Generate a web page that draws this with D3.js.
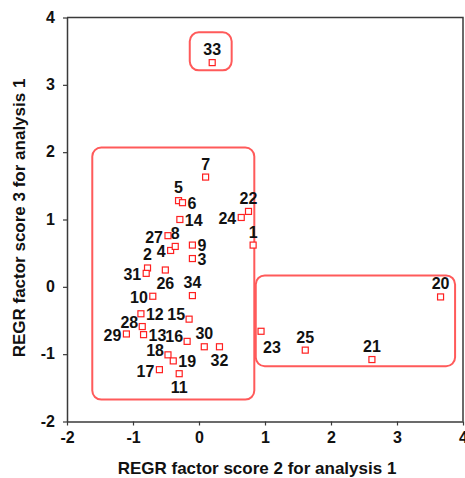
<!DOCTYPE html>
<html>
<head>
<meta charset="utf-8">
<script src="https://cdn.jsdelivr.net/npm/d3@7"></script>
<style>
  html, body { margin: 0; padding: 0; background: #fff; }
  svg { display: block; font-family: "Liberation Sans", Arial, sans-serif; }
</style>
</head>
<body>
<svg id="chart" width="465" height="478"></svg>
<script>
// ---- data ----
const caseIds = [1,2,3,4,5,6,7,8,9,10,11,12,13,14,15,16,17,18,19,20,21,22,23,24,25,26,27,28,29,30,31,32,33,34];
const factor2 = [0.82,-0.78,-0.10,-0.43,-0.31,-0.25,0.10,-0.36,-0.10,-0.70,-0.30,-0.88,-0.84,-0.29,-0.15,-0.18,-0.60,-0.47,-0.39,3.66,2.62,0.75,0.94,0.64,1.61,-0.51,-0.47,-0.86,-1.10,0.08,-0.80,0.31,0.20,-0.10];
const factor3 = [0.62,0.28,0.42,0.54,1.28,1.25,1.63,0.60,0.62,-0.14,-1.29,-0.40,-0.71,1.00,-0.48,-0.81,-1.23,-1.01,-1.10,-0.15,-1.08,1.12,-0.66,1.03,-0.94,0.25,0.76,-0.59,-0.70,-0.89,0.20,-0.89,3.33,-0.13];
const labelSide = ["t","t","r","l","t","r","t","t","r","l","b","r","r","r","tl","tl","l","tl","r","t","t","t","br","l","t","b","l","tl","l","t","l","b","t","t"];
const xTicks = [-2,-1,0,1,2,3,4];
const yTicks = [-2,-1,0,1,2,3,4];
const xTitle = "REGR factor score 2 for analysis 1";
const yTitle = "REGR factor score 3 for analysis 1";
// group boxes in data units: [x0, x1, y0, y1]
const groupBoxes = [
  [-1.617, 0.838, -1.675, 2.07],
  [0.86, 3.88, -1.18, 0.17],
  [-0.14, 0.495, 3.215, 3.78]
];

// ---- layout ----
const svg = d3.select("#chart");
const x = d3.scaleLinear().domain([-2, 4]).range([67, 463]);
const y = d3.scaleLinear().domain([-2, 4]).range([421.5, 17.5]);
const axisColor = "#3a3a3a";
const fmt = d => String(d); // plain hyphen-minus like the reference

// frame (top and right)
svg.append("path")
  .attr("d", `M${x(-2)},${y(4)}H${x(4)}V${y(-2)}`)
  .attr("fill", "none").attr("stroke", axisColor).attr("stroke-width", 1.5);

const xAxis = svg.append("g").attr("transform", `translate(0,${y(-2)})`)
  .call(d3.axisBottom(x).tickValues(xTicks).tickSize(4).tickSizeOuter(0).tickFormat(fmt));
const yAxis = svg.append("g").attr("transform", `translate(${x(-2)},0)`)
  .call(d3.axisLeft(y).tickValues(yTicks).tickSize(4).tickSizeOuter(0).tickFormat(fmt));

[xAxis, yAxis].forEach(g => {
  g.select(".domain").attr("stroke", axisColor).attr("stroke-width", 1.5);
  g.selectAll(".tick line").attr("stroke", axisColor).attr("stroke-width", 1.2);
  g.selectAll(".tick text")
    .attr("fill", "#111").attr("font-size", 16).attr("font-weight", "bold")
    .attr("font-family", "\"Liberation Sans\", Arial, sans-serif");
});
xAxis.selectAll(".tick text").attr("y", 10).attr("dy", "0.71em");
yAxis.selectAll(".tick text").attr("x", -12).attr("dy", "0.3em");

// axis titles
svg.append("text")
  .attr("x", 257).attr("y", 474)
  .attr("text-anchor", "middle")
  .attr("font-size", 17).attr("font-weight", "bold").attr("fill", "#111")
  .text(xTitle);
svg.append("text")
  .attr("transform", `translate(25,218) rotate(-90)`)
  .attr("text-anchor", "middle")
  .attr("font-size", 17).attr("font-weight", "bold").attr("fill", "#111")
  .text(yTitle);

// group boxes
svg.append("g").selectAll("rect").data(groupBoxes).join("rect")
  .attr("x", d => x(d[0]))
  .attr("y", d => y(d[3]))
  .attr("width", d => x(d[1]) - x(d[0]))
  .attr("height", d => y(d[2]) - y(d[3]))
  .attr("rx", 9).attr("ry", 9)
  .attr("fill", "none").attr("stroke", "#ff5a5a").attr("stroke-width", 2);

// points
const pts = caseIds.map((id, i) => ({id, fx: factor2[i], fy: factor3[i], side: labelSide[i]}));
svg.append("g").selectAll("rect").data(pts).join("rect")
  .attr("x", d => x(d.fx) - 3)
  .attr("y", d => y(d.fy) - 3)
  .attr("width", 6).attr("height", 6)
  .attr("fill", "#fff").attr("stroke", "#ff2020").attr("stroke-width", 1.2);

const off = {
  t:  {dx: 0,  dy: -7.5, a: "middle"},
  b:  {dx: 0,  dy: 19,   a: "middle"},
  l:  {dx: -5, dy: 7,    a: "end"},
  r:  {dx: 5,  dy: 6,    a: "start"},
  tl: {dx: -4, dy: 1,    a: "end"},
  br: {dx: 2,  dy: 22,   a: "start"}
};
svg.append("g").selectAll("text").data(pts).join("text")
  .attr("x", d => x(d.fx) + off[d.side].dx)
  .attr("y", d => y(d.fy) + off[d.side].dy)
  .attr("text-anchor", d => off[d.side].a)
  .attr("font-size", 16).attr("font-weight", "bold").attr("fill", "#111")
  .text(d => d.id);
</script>
</body>
</html>
